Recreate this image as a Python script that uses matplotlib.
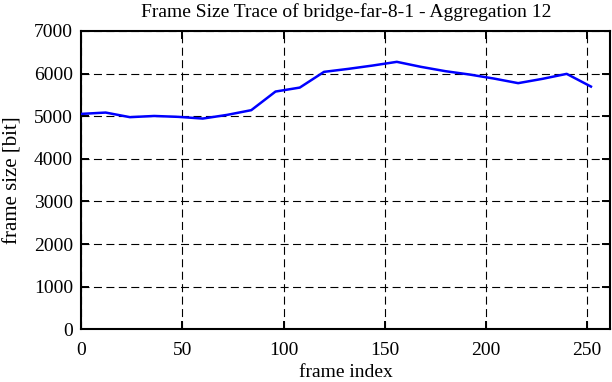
import matplotlib
matplotlib.use("Agg")
import matplotlib.pyplot as plt
import numpy as np

# frame index (aggregation 12) and frame size in bit
frame_index = [0, 12, 24, 36, 48, 60, 72, 84, 96, 108, 120, 132,
               144, 156, 168, 180, 192, 204, 216, 228, 240, 252]
frame_size = [5054, 5085, 4977, 5005, 4984, 4944, 5030, 5141, 5578, 5671, 6040, 6110,
              6188, 6275, 6157, 6056, 5977, 5883, 5775, 5876, 5993, 5695]

xticks = [0, 50, 100, 150, 200, 250]
yticks = [0, 1000, 2000, 3000, 4000, 5000, 6000, 7000]

plt.rcParams["font.family"] = ["Liberation Serif", "DejaVu Serif"]

fig = plt.figure(figsize=(6.12, 3.82), dpi=100)
ax = fig.add_axes([0.133, 0.138, 0.864, 0.781])

ax.plot(frame_index, frame_size, color="#0000ff", linewidth=1.8, zorder=3)

ax.set_xlim(0, 261.5)
ax.set_ylim(0, 7000)
ax.set_xticks(xticks)
ax.set_yticks(yticks)

ax.grid(True, color="black", linestyle=(0, (7.2, 4.0)), linewidth=0.8)
ax.tick_params(direction="in", length=6, width=1.4, top=True, right=True,
               labelsize=14, colors="black")
ax.tick_params(axis="x", pad=9)
ax.tick_params(axis="y", pad=6)
for side in ["top", "bottom", "left", "right"]:
    ax.spines[side].set_linewidth(1.5)

ax.set_title("Frame Size Trace of bridge-far-8-1 - Aggregation 12", fontsize=14, pad=10)
ax.set_xlabel("frame index", fontsize=14, labelpad=4)
ax.set_ylabel("frame size [bit]", fontsize=15, labelpad=8)

plt.savefig("out.png", dpi=100)
